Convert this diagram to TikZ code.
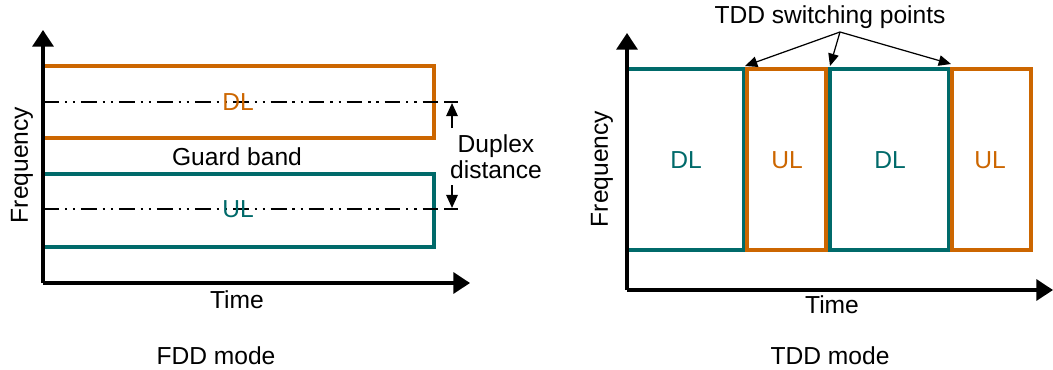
\documentclass[tikz,border=0pt]{standalone}
\usepackage{fontspec}
\setmainfont{Liberation Sans}
\usetikzlibrary{arrows.meta,fit}
\definecolor{orng}{RGB}{204,102,0}
\definecolor{teal2}{RGB}{0,106,106}
\tikzset{
  axis/.style={line width=1.8pt,-{Triangle[length=9.5pt,width=12pt]}},
  obox/.style={draw=orng,line width=1.9pt,inner sep=0pt,outer sep=0pt},
  tbox/.style={draw=teal2,line width=1.9pt,inner sep=0pt,outer sep=0pt},
  lbl/.style={inner sep=0pt,font=\fontsize{14}{16}\selectfont},
  dd/.style={line width=1.4pt,dash pattern=on 9pt off 3.4pt on 1.2pt off 3.4pt on 1.2pt off 3.4pt},
  dup/.style={line width=1.2pt,-{Triangle[length=7.5pt,width=6.5pt]}},
  sw/.style={line width=0.7pt,-{Triangle[length=7pt,width=6pt]}}
}
\begin{document}
\begin{tikzpicture}[x=0.02cm,y=-0.02cm]
\useasboundingbox (0,0) rectangle (1053,369);
% ---------- FDD ----------
\coordinate (o1) at (43,283);
\coordinate (y1) at (43,30);
\coordinate (x1) at (470,283);
\node[obox,fit={(43,66) (434,138)}] (dl) {};
\node[tbox,fit={(43,174) (434,247)}] (ul) {};
\coordinate (d1a) at (43,102); \coordinate (d1b) at (456,102);
\coordinate (d2a) at (43,209); \coordinate (d2b) at (456,209);
\draw[dd] (d1a) -- (d1b);
\draw[dd] (d2a) -- (d2b);
\node[lbl,text=orng] (dltxt) at (238,102) {DL};
\node[lbl,text=teal2] (ultxt) at (238,209) {UL};
\draw[axis] (o1) -- (y1);
\draw[axis] (o1) -- (x1);
\node[lbl] (gb) at (237,157) {Guard band};
\node[lbl,align=center] (dupd) at (496,157) {Duplex\\[-1pt]distance};
\coordinate (ua) at (452,128); \coordinate (ub) at (452,103);
\coordinate (la) at (452,185); \coordinate (lb) at (452,208);
\draw[dup] (ua) -- (ub);
\draw[dup] (la) -- (lb);
\draw[line width=1.2pt] (445,102) -- (458,102);
\draw[line width=1.2pt] (445,209) -- (458,209);
\node[lbl,rotate=90] (fq1) at (22,165) {Frequency};
\node[lbl] (t1) at (237,300) {Time};
\node[lbl] (m1) at (216,356) {FDD mode};
% ---------- TDD ----------
\coordinate (o2) at (627,290);
\coordinate (y2) at (627,33);
\coordinate (x2) at (1053,290);
\node[tbox,fit={(627,69) (744,250)}] (b1) {};
\node[obox,fit={(747,69) (826,250)}] (b2) {};
\node[tbox,fit={(830,69) (949,250)}] (b3) {};
\node[obox,fit={(952,69) (1031,250)}] (b4) {};
\node[lbl,text=teal2] (b1t) at (686,160) {DL};
\node[lbl,text=orng] (b2t) at (787,160) {UL};
\node[lbl,text=teal2] (b3t) at (890,160) {DL};
\node[lbl,text=orng] (b4t) at (990,160) {UL};
\draw[axis] (o2) -- (y2);
\draw[axis] (o2) -- (x2);
\node[lbl] (tsp) at (830,17) {TDD switching points};
\coordinate (sp) at (840,32);
\coordinate (s1) at (745,66);
\coordinate (s2) at (830,66);
\coordinate (s3) at (951,64);
\draw[sw] (sp) -- (s1);
\draw[sw] (sp) -- (s2);
\draw[sw] (sp) -- (s3);
\node[lbl,rotate=90] (fq2) at (602,169) {Frequency};
\node[lbl] (t2) at (832,305) {Time};
\node[lbl] (m2) at (830,356) {TDD mode};
\end{tikzpicture}
\end{document}
